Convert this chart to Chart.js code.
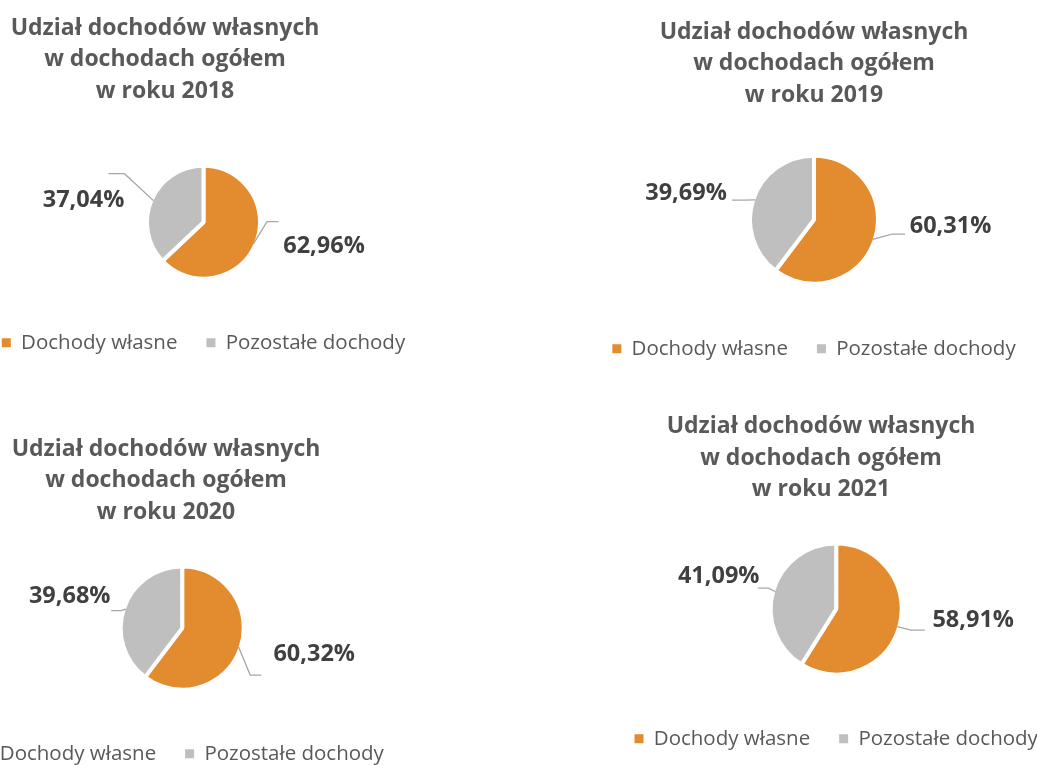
<!DOCTYPE html>
<html>
<head>
<meta charset="utf-8">
<script src="https://cdn.jsdelivr.net/npm/chart.js@4.4.0/dist/chart.umd.min.js"></script>
<style>
    body { margin: 0; background: #fff; width: 1037px; height: 765px; position: relative; overflow: hidden; }
    canvas { position: absolute; }
</style>
</head>
<body>
<script>
// data
const years = ["2018", "2019", "2020", "2021"];
const categories = ["Dochody własne", "Pozostałe dochody"];
const ownIncomeShare = [62.96, 60.31, 60.32, 58.91];
const otherIncomeShare = [37.04, 39.69, 39.68, 41.09];
const titleLines = ["Udział dochodów własnych", "w dochodach ogółem"];
const sliceColors = ["#E38B2F", "#BFBFBF"];

// where each small chart sits on the page (px) and where its labels go
const layouts = [
    { left: -135, top: 0, width: 600, height: 363, spacer: 77, titleTop: 12.5, titleBottom: 33.9, radius: 54.5,
      labels: [{ lx: 120.5, ly: 24.5, ex: 63.5, ey: -0.5, hx: 75 }, { lx: -120, ly: -22, ex: -79, ey: -48.5, hx: -95 }] },
    { left: 534.2, top: 0, width: 560, height: 369, spacer: 0, titleTop: 16.5, titleBottom: 18.8, radius: 62,
      labels: [{ lx: 136.5, ly: 7, ex: 78, ey: 14.5, hx: 91 }, { lx: -128, ly: -26.5, ex: -70, ey: -19.5, hx: -82 }] },
    { left: -114.2, top: 420, width: 560, height: 354, spacer: 32.4, titleTop: 13.5, titleBottom: 13.7, radius: 59.5,
      labels: [{ lx: 132, ly: 26, ex: 68, ey: 47, hx: 79 }, { lx: -112.5, ly: -31.5, ex: -61, ey: -17.5, hx: -71 }] },
    { left: 541.3, top: 400, width: 560, height: 359, spacer: 30.4, titleTop: 11, titleBottom: 13.1, radius: 63.5,
      labels: [{ lx: 137, ly: 11, ex: 75, ey: 21, hx: 88.5 }, { lx: -117.5, ly: -32.5, ex: -68, ey: -21, hx: -78 }] }
];

const FONT = "'Open Sans', 'Noto Sans', sans-serif";

// percentage labels with leader lines, placed like in the original
const sliceLabels = {
    id: "sliceLabels",
    afterDatasetsDraw(chart, args, opts) {
        const ctx = chart.ctx;
        const meta = chart.getDatasetMeta(0);
        const values = chart.data.datasets[0].data;
        meta.data.forEach((arc, i) => {
            const p = opts.places[i];
            const mid = (arc.startAngle + arc.endAngle) / 2;
            const r = arc.outerRadius - 2;
            const ax = arc.x + Math.cos(mid) * r;
            const ay = arc.y + Math.sin(mid) * r;

            ctx.save();
            ctx.strokeStyle = "#A6A6A6";
            ctx.lineWidth = 1.3;
            ctx.beginPath();
            ctx.moveTo(ax, ay);
            ctx.lineTo(arc.x + p.ex, arc.y + p.ey);
            ctx.lineTo(arc.x + p.hx, arc.y + p.ey);
            ctx.stroke();

            ctx.fillStyle = "#404040";
            ctx.font = "bold 23.5px " + FONT;
            ctx.textAlign = "center";
            ctx.textBaseline = "middle";
            ctx.fillText(values[i].toFixed(2).replace(".", ",") + "%", arc.x + p.lx, arc.y + p.ly);
            ctx.restore();
        });
    }
};

years.forEach((year, idx) => {
    const lay = layouts[idx];
    const canvas = document.createElement("canvas");
    canvas.width = lay.width;
    canvas.height = lay.height;
    canvas.style.left = lay.left + "px";
    canvas.style.top = lay.top + "px";
    canvas.style.width = lay.width + "px";
    canvas.style.height = lay.height + "px";
    document.body.appendChild(canvas);

    new Chart(canvas.getContext("2d"), {
        type: "pie",
        data: {
            labels: categories,
            datasets: [{
                data: [ownIncomeShare[idx], otherIncomeShare[idx]],
                backgroundColor: sliceColors,
                borderColor: "#ffffff",
                borderWidth: 4,
                radius: lay.radius + 2
            }]
        },
        options: {
            responsive: false,
            animation: false,
            events: [],
            layout: { padding: 0 },
            plugins: {
                title: {
                    display: true,
                    text: [titleLines[0], titleLines[1], "w roku " + year],
                    color: "#595959",
                    font: { family: FONT, size: 23, weight: "bold", lineHeight: "31.5px" },
                    padding: { top: lay.titleTop, bottom: lay.titleBottom }
                },
                // empty box on the left, only shifts the pie away from the title centre
                subtitle: {
                    display: lay.spacer > 0,
                    position: "left",
                    fullSize: false,
                    text: "",
                    font: { size: 1, lineHeight: lay.spacer + "px" },
                    padding: 0
                },
                legend: {
                    position: "bottom",
                    fullSize: false,
                    labels: {
                        color: "#595959",
                        font: { family: FONT, size: 20.5 },
                        boxWidth: 9,
                        boxHeight: 9,
                        padding: 29,
                        generateLabels(chart) {
                            const items = Chart.overrides.pie.plugins.legend.labels.generateLabels(chart);
                            items.forEach(item => { item.lineWidth = 0; item.strokeStyle = item.fillStyle; });
                            return items;
                        }
                    }
                },
                tooltip: { enabled: false },
                sliceLabels: { places: lay.labels }
            }
        },
        plugins: [sliceLabels]
    });
});
</script>
</body>
</html>
